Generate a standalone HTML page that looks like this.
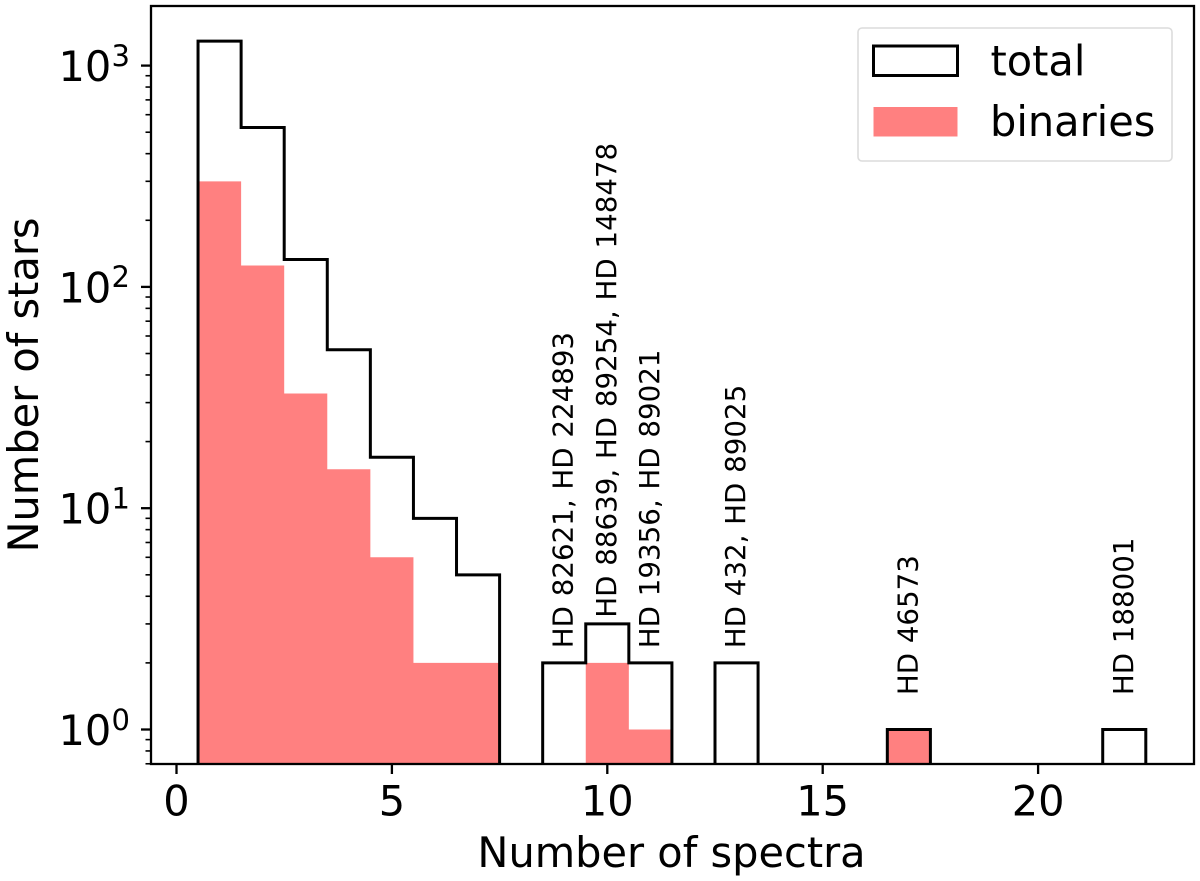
<!DOCTYPE html>
<html>
<head>
<meta charset="utf-8">
<style>
html,body{margin:0;padding:0;background:#fff;}
svg{display:block;}
text{font-family:"DejaVu Sans","Liberation Sans",sans-serif;fill:#000;}
</style>
</head>
<body>
<svg id="chart" xmlns="http://www.w3.org/2000/svg" width="1200" height="881" viewBox="0 0 1200 881"></svg>
<script>
const bins = [1,2,3,4,5,6,7,8,9,10,11,12,13,14,15,16,17,18,19,20,21,22];
const totalCounts = [1290,525,133,52,17,9,5,0,2,3,2,0,2,0,0,0,1,0,0,0,0,1];
const binaryCounts = [300,125,33,15,6,2,2,0,0,2,1,0,0,0,0,0,1,0,0,0,0,0];
const xTicks = [0,5,10,15,20];
const yDecades = [0,1,2,3];
const yMinorMultipliers = [2,3,4,5,6,7,8,9];
const annotationLabels = ["HD 82621, HD 224893","HD 88639, HD 89254, HD 148478","HD 19356, HD 89021","HD 432, HD 89025","HD 46573","HD 188001"];
const annotationBins = [9,10,11,13,17,22];
const annotationValues = [2.33,3.2,2.33,2.33,1.43,1.43];

const plot = {left:151, right:1194, top:6, bottom:764};
const NS = "http://www.w3.org/2000/svg";
const svg = document.getElementById('chart');
function xScale(v){ return 176.5 + v * 43.08; }
function yScale(v){ return 729.5 - Math.log10(v) * 221.3; }
function add(tag, attrs, parent){
  const el = document.createElementNS(NS, tag);
  for (const k in attrs) el.setAttribute(k, attrs[k]);
  (parent || svg).appendChild(el);
  return el;
}
function stepPath(counts, closed){
  let d = "";
  const base = plot.bottom;
  for (let i = 0; i < bins.length; i++){
    const c = counts[i];
    if (c <= 0) continue;
    const x0 = xScale(bins[i] - 0.5), x1 = xScale(bins[i] + 0.5), y = yScale(c);
    const prev = i > 0 ? counts[i-1] : 0;
    const next = i < bins.length - 1 ? counts[i+1] : 0;
    if (prev <= 0) d += "M" + x0 + " " + base;
    d += "L" + x0 + " " + y + "L" + x1 + " " + y;
    if (next <= 0) d += "L" + x1 + " " + base + (closed ? "Z" : "");
  }
  return d;
}

const binaries = add('path', {d: stepPath(binaryCounts, true), fill:'#ff8080', stroke:'none'});



const total = add('path', {d: stepPath(totalCounts, false), fill:'none', stroke:'#000', 'stroke-width':3, 'stroke-linejoin':'miter'});



const frame = add('rect', {x:plot.left, y:plot.top, width:plot.right-plot.left, height:plot.bottom-plot.top, fill:'none', stroke:'#000', 'stroke-width':2.3});



xTicks.forEach(function(t){
  const x = xScale(t);
  const tick = add('line', {x1:x, x2:x, y1:plot.bottom, y2:plot.bottom+10, stroke:'#000', 'stroke-width':2.3});
  
  
  const label = add('text', {x:x, y:815.5, 'font-size':41.5, 'text-anchor':'middle'});
  label.textContent = t;
  
  
});

yDecades.forEach(function(dec){
  const value = Math.pow(10, dec);
  const y = yScale(value);
  const tick = add('line', {x1:plot.left-10, x2:plot.left, y1:y, y2:y, stroke:'#000', 'stroke-width':2.3});
  
  
  const label = add('text', {x:58.5, y:y+15.5, 'font-size':41.5});
  label.textContent = '10';
  
  
  const sup = add('text', {x:111.5, y:y+0.3, 'font-size':29});
  sup.textContent = dec;
  
  
});
[-1,0,1,2,3].forEach(function(dec){
  yMinorMultipliers.forEach(function(m){
    const value = m * Math.pow(10, dec);
    const y = yScale(value);
    if (y > plot.bottom + 1 || y < plot.top) return;
    const tick = add('line', {x1:plot.left-5.5, x2:plot.left, y1:y, y2:y, stroke:'#000', 'stroke-width':1.6});
    
    
  });
});

annotationLabels.forEach(function(txt, i){
  const x = xScale(annotationBins[i]) + 8.5;
  const y = yScale(annotationValues[i]);
  const t = add('text', {'font-size':27.7, 'word-spacing':1, transform:'translate(' + x + ' ' + y + ') rotate(-90)'});
  t.textContent = txt;
  
  
});

const xTitle = add('text', {x:671.5, y:867, 'font-size':41.5, 'text-anchor':'middle'});
xTitle.textContent = 'Number of spectra';



const yTitle = add('text', {'font-size':41.5, 'text-anchor':'middle', transform:'translate(38 385) rotate(-90)'});
yTitle.textContent = 'Number of stars';



const legend = add('g', {});


const legendBox = add('rect', {x:858, y:28, width:314, height:133, rx:4, fill:'#fff', 'fill-opacity':0.8, stroke:'#dcdcdc', 'stroke-width':1.6}, legend);


const swatchTotal = add('rect', {x:873.5, y:46, width:84, height:29.5, fill:'none', stroke:'#000', 'stroke-width':3}, legend);


const swatchBin = add('rect', {x:873.5, y:107, width:84, height:29.5, fill:'#ff8080'}, legend);


const legendTotal = add('text', {x:990.5, y:75.5, 'font-size':41.5}, legend);
legendTotal.textContent = 'total';


const legendBinaries = add('text', {x:990, y:136, 'font-size':41.5}, legend);
legendBinaries.textContent = 'binaries';


</script>
</body>
</html>
